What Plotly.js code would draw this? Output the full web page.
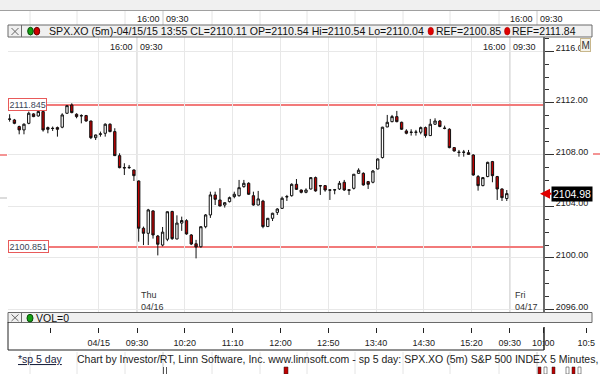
<!DOCTYPE html>
<html><head><meta charset="utf-8">
<script src="https://cdn.plot.ly/plotly-3.0.1.min.js"></script>
<style>html,body{margin:0;padding:0;background:#fff;}#chart{width:600px;height:374px;}</style>
</head><body><div id="chart"></div>
<script>
// ---- data (SPX.XO 5-minute bars: last 27 bars of 04/15, then 04/16 09:30..15:55) ----
const sessionStartBar = -27;   // bars before 04/16 09:30
const open = [
 2110.73,2110.68,2110.17,2109.91,2110.42,2111.15,2110.99,2111.33,2110.09,2110.04,2110.09,2110.12,2111.20,2111.84,2111.12,2111.02,2111.02,2110.60,2109.31,2109.57,2109.65,2110.35,2109.78,2107.92,2107.00,2106.99,2106.81,
 2105.96,2102.30,2101.91,2103.64,2101.70,2101.00,2101.45,2103.60,2101.47,2102.70,2102.89,2101.78,2101.10,2100.87,2102.42,2103.33,2104.88,2104.49,2104.10,2104.36,2104.75,2104.82,2105.52,2105.78,2104.82,2104.10,2104.40,2102.43,
 2103.07,2103.53,2103.84,2104.72,2104.82,2105.70,2105.26,2105.08,2105.34,2106.22,2105.60,2105.60,2105.27,2105.26,2105.34,2105.86,2105.28,2105.39,2106.55,2106.55,2105.91,2105.86,2106.89,2107.77,2110.14,2110.55,2110.94,2110.50,
 2109.83,2109.74,2109.72,2109.73,2110.09,2109.47,2110.35,2110.60,2110.05,2109.96,2108.54,2108.19,2108.17,2108.15,2107.97,2106.30,2105.60,2106.30,2107.46,2106.30,2105.34,2104.60];
const high = [
 2111.12,2110.76,2110.24,2110.42,2111.33,2111.20,2111.38,2111.38,2110.17,2110.17,2110.17,2111.20,2111.84,2111.97,2111.20,2111.12,2111.07,2110.62,2109.55,2109.78,2110.42,2110.42,2110.04,2108.10,2107.33,2107.20,2106.85,
 2106.00,2102.43,2103.80,2103.70,2101.78,2102.40,2103.60,2103.65,2103.30,2103.20,2103.00,2101.85,2101.40,2102.45,2103.40,2105.13,2105.13,2105.40,2104.30,2104.75,2105.13,2106.04,2106.04,2105.86,2105.13,2105.19,2104.50,2103.10,
 2103.50,2103.85,2104.75,2104.88,2105.78,2106.11,2105.30,2105.39,2106.25,2106.30,2105.65,2105.62,2105.31,2105.34,2105.96,2106.04,2105.30,2106.50,2106.94,2106.63,2105.96,2106.81,2107.70,2110.15,2111.07,2111.07,2111.38,2110.55,
 2109.96,2109.96,2109.91,2110.17,2110.17,2110.76,2110.81,2110.68,2110.24,2110.04,2108.56,2108.36,2108.36,2108.36,2108.02,2106.42,2106.25,2107.45,2107.51,2106.35,2105.39,2105.26];
const low = [
 2110.55,2110.35,2109.57,2109.57,2110.35,2110.90,2110.94,2109.78,2109.65,2109.83,2109.39,2110.04,2111.15,2111.20,2110.81,2110.42,2110.55,2109.20,2109.13,2109.39,2109.39,2109.73,2107.90,2106.94,2106.42,2106.89,2105.96,
 2101.26,2101.00,2101.00,2101.50,2100.20,2100.90,2101.30,2101.40,2101.45,2102.10,2101.80,2101.00,2099.97,2100.80,2102.30,2103.10,2104.10,2104.00,2103.90,2104.30,2104.62,2104.75,2105.44,2104.88,2104.05,2104.08,2102.30,2102.40,
 2102.86,2103.33,2103.79,2104.41,2104.75,2105.26,2105.00,2105.01,2105.30,2105.13,2104.88,2105.13,2104.49,2104.93,2105.26,2105.19,2104.88,2105.30,2106.50,2105.60,2105.34,2105.78,2106.85,2107.70,2110.12,2110.50,2110.50,2109.91,
 2109.57,2109.47,2109.47,2109.57,2109.31,2109.45,2110.29,2110.12,2109.96,2108.49,2108.23,2107.84,2107.84,2107.97,2106.37,2105.21,2105.55,2106.25,2105.86,2104.49,2104.41,2104.41];
const close = [
 2110.75,2110.42,2109.91,2110.35,2111.20,2110.94,2111.33,2109.91,2109.96,2110.02,2109.96,2111.07,2111.79,2111.25,2110.94,2111.00,2110.60,2109.31,2109.52,2109.60,2110.35,2109.78,2107.92,2106.99,2106.97,2107.01,2106.37,
 2102.30,2101.91,2103.72,2101.78,2101.06,2102.00,2103.58,2101.50,2102.70,2102.90,2101.86,2101.08,2100.85,2102.42,2103.33,2104.88,2104.54,2104.02,2104.28,2104.67,2104.93,2105.44,2105.78,2104.93,2104.10,2104.57,2102.43,2103.07,
 2103.46,2103.79,2104.62,2104.75,2105.70,2105.31,2105.08,2105.26,2106.22,2105.19,2105.58,2105.26,2105.25,2105.28,2105.78,2105.26,2105.24,2106.48,2106.79,2105.65,2105.70,2106.73,2107.66,2110.12,2110.50,2110.94,2110.55,2109.96,
 2109.65,2109.72,2109.74,2110.09,2109.47,2110.35,2110.60,2110.17,2110.03,2108.54,2108.28,2108.17,2108.19,2108.02,2106.42,2105.60,2106.22,2107.40,2106.37,2105.34,2104.67,2104.98];
const refLevels = [2111.845, 2100.851];
const refLabels = ['2111.845', '2100.851'];
const lastPriceLabel = '2104.98';
// time-axis ticks, in bars from 04/16 09:30
const tickBars  = [-18, -8, 0, 10, 20, 30, 40, 50, 60, 70, 78, 85, 94];
const tickTexts = ['', '04/15', '09:30', '10:20', '11:10', '12:00', '12:50', '13:40', '14:30', '15:20', '09:30', '10:00', '10:5'];
const dayBreakBars = [0, 78];

// ---- geometry helpers ----
const W = 600, H = 374;
const px = v => v / W, py = v => 1 - v / H;
const TICK_OFF = -0.35;
const barX = open.map((_, i) => i + sessionStartBar);
const xRange = [-27.34, 84.58];
const x2Range = [-27.34, 96.51];
const FONT = '"Liberation Sans", Arial, sans-serif';

const shapes = [];
const line = (x0, y0, x1, y1, color, width) => shapes.push({type:'line', xref:'paper', yref:'paper', x0:px(x0), y0:py(y0), x1:px(x1), y1:py(y1), line:{color, width}, layer:'above'});
const rect = (x0, y0, x1, y1, fill, lc, lw, layer) => shapes.push({type:'rect', xref:'paper', yref:'paper', x0:px(x0), y0:py(y0), x1:px(x1), y1:py(y1), fillcolor:fill, line:{color:lc, width:lw}, layer:layer || 'above'});

// top band
rect(0, 0, 600, 10, '#f0f0f0', 'rgba(0,0,0,0)', 0, 'below');
line(0, 10.5, 600, 10.5, '#a0a0a0', 1);
// stray grid of neighbouring pane (above header / below footer)
[30, 77, 125, 163, 212, 260, 307, 355, 403, 450, 499, 537].forEach(x => {
  const c = (x === 163 || x === 537) ? '#c8c8c8' : '#e4e4e4';
  line(x, 11, x, 25, c, 1);
  line(x, 352, x, 374, c, 1);
});
// day separators in main plot
dayBreakBars.forEach(b => shapes.push({type:'line', xref:'x', yref:'paper', x0:b + TICK_OFF, x1:b + TICK_OFF, y0:py(312), y1:py(37), line:{color:'#dadada', width:1.5}, layer:'below'}));
// reference lines
refLevels.forEach(v => shapes.push({type:'line', xref:'paper', yref:'y', x0:px(8), x1:px(543), y0:v, y1:v, line:{color:'#f27a7a', width:2}, layer:'below'}));
// header bar
rect(8, 25, 592, 37, '#f0f0f0', '#6a6a6a', 1);
line(21.5, 25, 21.5, 37, '#6a6a6a', 1);
line(11.5, 28, 18.5, 35, '#666', 1); line(11.5, 35, 18.5, 28, '#666', 1);
shapes.push({type:'circle', xref:'paper', yref:'paper', x0:px(27.7), x1:px(33.3), y0:py(35), y1:py(27.3), fillcolor:'#14a014', line:{color:'#0a4a0a', width:1}});
shapes.push({type:'circle', xref:'paper', yref:'paper', x0:px(34), x1:px(39.7), y0:py(35), y1:py(27.3), fillcolor:'#d00000', line:{color:'#600', width:1}});
shapes.push({type:'circle', xref:'paper', yref:'paper', x0:px(428), x1:px(433.5), y0:py(35), y1:py(27.3), fillcolor:'#e00000', line:{color:'#900', width:0.5}});
shapes.push({type:'circle', xref:'paper', yref:'paper', x0:px(504.5), x1:px(510), y0:py(35), y1:py(27.3), fillcolor:'#e00000', line:{color:'#900', width:0.5}});
// VOL bar
rect(8, 312.5, 592, 322.5, '#f0f0f0', '#6a6a6a', 1);
line(21.5, 312.5, 21.5, 322.5, '#6a6a6a', 1);
line(11.5, 314.5, 18.5, 321, '#666', 1); line(11.5, 321, 18.5, 314.5, '#666', 1);
shapes.push({type:'circle', xref:'paper', yref:'paper', x0:px(27), x1:px(33), y0:py(322), y1:py(314.3), fillcolor:'#14a014', line:{color:'#0a4a0a', width:1}});
// lower time-axis frame
line(8, 350, 544, 350, '#222', 1);
line(8, 322, 8, 350, '#222', 1);
line(544, 327, 544, 350, '#222', 1.5);
// edge marks
line(0, 155, 7, 155, '#f07070', 1.5);
line(0, 198, 7, 198, '#d0d0d0', 1.5);
line(593, 154, 600, 154, '#f07070', 1.5);
// fragments of neighbouring pane under the footer
rect(284, 367, 288, 374, '#c00000', '#222', 0.5);
line(163.5, 367, 163.5, 374, '#555', 1); line(166.5, 367, 166.5, 374, '#555', 1);
[538, 544, 552, 566, 572, 578].forEach((x, k) => rect(x, 367, x + 3, 374, k % 2 ? '#ffffff' : '#c00000', '#222', 0.5));

const ann = [];
const txt = (x, y, text, size, color, xanchor, extra) => ann.push(Object.assign({xref:'paper', yref:'paper', x:px(x), y:py(y), text, showarrow:false, xanchor:xanchor || 'center', yanchor:'middle', font:{family:FONT, size, color}}, extra || {}));
txt(148, 19, '16:00', 9, '#222'); txt(177.5, 19, '09:30', 9, '#222');
txt(521, 19, '16:00', 9, '#222'); txt(551, 19, '09:30', 9, '#222');
txt(121, 47, '16:00', 9, '#222'); txt(151, 47, '09:30', 9, '#222');
txt(494.5, 47, '16:00', 9, '#222'); txt(524, 47, '09:30', 9, '#222');
txt(46.5, 31.3, 'SPX.XO (5m)-04/15/15 13:55 CL=2110.11 OP=2110.54 Hi=2110.54 Lo=2110.04', 10.6, '#111', 'left');
txt(433.5, 31.3, 'REF=2100.85', 10.5, '#111', 'left');
txt(510, 31.3, 'REF=2111.84', 10.5, '#111', 'left');
txt(34, 318, 'VOL=0', 10.5, '#111', 'left');
txt(138.5, 295, 'Thu', 9, '#333', 'left'); txt(138.5, 307, '04/16', 9, '#333', 'left');
txt(512.5, 295, 'Fri', 9, '#333', 'left'); txt(512.5, 307, '04/17', 9, '#333', 'left');
txt(15.5, 358.5, '<u>*sp 5 day</u>', 10.5, '#1c2440', 'left');
txt(74.5, 358.5, 'Chart by Investor/RT, Linn Software, Inc. www.linnsoft.com - sp 5 day: SPX.XO (5m) S&amp;P 500 INDEX 5 Minutes,', 10.5, '#222', 'left');
txt(585, 45, 'M', 10, '#333', 'center', {bgcolor:'#f5f3ea', bordercolor:'#c8b78c', borderwidth:1, borderpad:0.5});
refLevels.forEach((v, k) => ann.push({xref:'paper', yref:'y', x:px(8), y:v, text:refLabels[k], showarrow:false, xanchor:'left', yanchor:'middle',
  font:{family:FONT, size:9, color:'#3a4658'}, bgcolor:'#ffffff', bordercolor:'#e85a5a', borderwidth:1, borderpad:0.5}));
ann.push({xref:'paper', yref:'y', x:px(540), y:close[close.length - 1], text:lastPriceLabel, showarrow:true, ax:32, ay:0,
  arrowcolor:'#e00000', arrowhead:2, arrowsize:1, arrowwidth:2, standoff:0,
  font:{family:FONT, size:10.5, color:'#ffffff'}, bgcolor:'#000000', borderpad:1});

const traces = [
  {type:'candlestick', x:barX, open, high, low, close, xaxis:'x', yaxis:'y',
   increasing:{line:{color:'#111', width:1}, fillcolor:'#ffffff'},
   decreasing:{line:{color:'#111', width:1}, fillcolor:'#c00000'},
   whiskerwidth:0, hoverinfo:'skip', showlegend:false},
  {type:'scatter', x:[], y:[], xaxis:'x2', yaxis:'y2', showlegend:false, hoverinfo:'skip'}
];

const layout = {
  width:W, height:H, margin:{l:0, r:0, t:0, b:0, pad:0},
  paper_bgcolor:'#ffffff', plot_bgcolor:'#ffffff', showlegend:false,
  font:{family:FONT, size:9, color:'#222'},
  xaxis:{domain:[px(8), px(543)], range:xRange, type:'linear', anchor:'y',
    tickmode:'array', tickvals:tickBars.slice(1, 10).map(b => b + TICK_OFF), showticklabels:false, ticks:'',
    showgrid:true, gridcolor:'#e8e8e8', gridwidth:1, zeroline:false, showline:false,
    rangeslider:{visible:false}, fixedrange:true},
  yaxis:{domain:[py(312), py(37)], range:[2095.82, 2117.10], side:'right', anchor:'x',
    tick0:2096, dtick:4, tickformat:'.2f', ticks:'outside', ticklen:9, tickwidth:1, tickcolor:'#333',
    showline:true, linecolor:'#6a6a6a', linewidth:2, showgrid:true, gridcolor:'#e8e8e8', zeroline:false,
    minor:{dtick:1, ticks:'outside', ticklen:4, tickcolor:'#333', showgrid:false},
    tickfont:{family:FONT, size:9, color:'#222'}, ticklabelshift:-3, fixedrange:true},
  xaxis2:{domain:[px(8), 1], range:x2Range, anchor:'y2', type:'linear',
    tickmode:'array', tickvals:tickBars.map(b => b + TICK_OFF), ticktext:tickTexts,
    ticks:'inside', ticklen:5, tickwidth:1, tickcolor:'#222', showgrid:false, zeroline:false, showline:false,
    tickfont:{family:FONT, size:9, color:'#222'}, ticklabelstandoff:3, fixedrange:true},
  yaxis2:{domain:[py(333), py(322)], range:[0, 1], visible:false, fixedrange:true},
  boxgap:0.3,
  shapes, annotations:ann
};
Plotly.newPlot('chart', traces, layout, {staticPlot:true, displayModeBar:false});
</script>
</body></html>
